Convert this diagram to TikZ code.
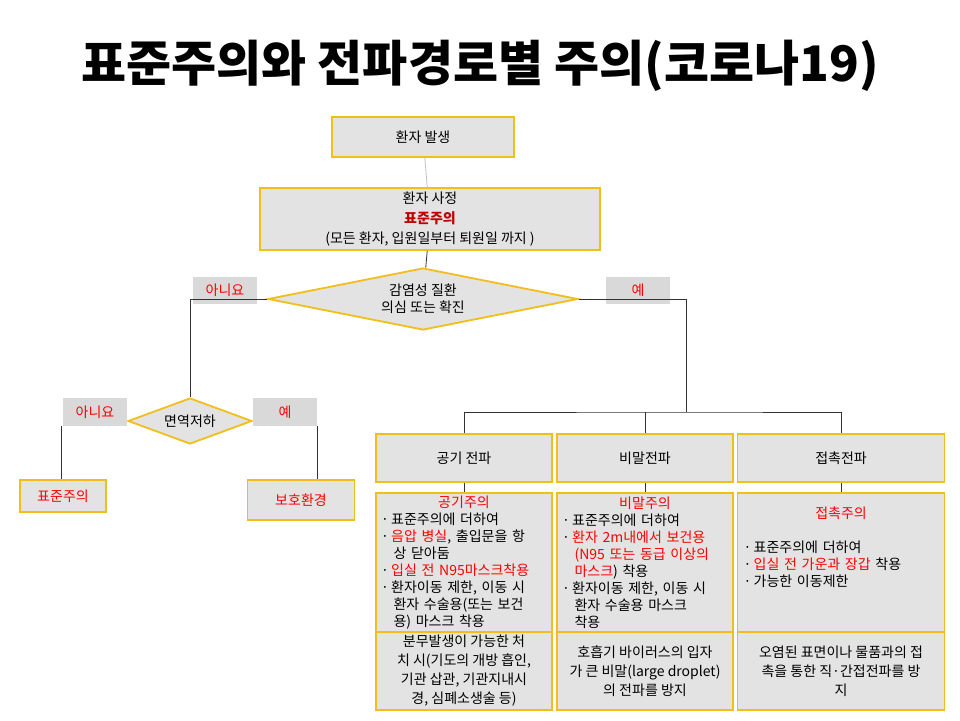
\documentclass[tikz,border=0pt]{standalone}
\usepackage{fontspec}
\setmainfont{Noto Sans CJK KR}
\usetikzlibrary{shapes.geometric}
\usetikzlibrary{positioning}
\definecolor{gold}{HTML}{F2BE1A}
\definecolor{boxgray}{HTML}{E3E3E3}
\definecolor{labgray}{HTML}{D9D9D9}
\definecolor{darkred}{HTML}{C00000}
\newcommand{\rd}[1]{\textcolor{red}{#1}}
\newcommand{\ind}{\phantom{·\ }}

\begin{document}
\begin{tikzpicture}
    [
    x=1pt,y=-1pt,
    font=\fontsize{14}{17}\selectfont,
    box/.style={rectangle,draw=gold,line width=1.8pt,fill=boxgray,inner sep=2pt},
    ask/.style={diamond,draw=gold,line width=1.8pt,fill=boxgray,inner sep=0pt,aspect=5},
    tag/.style={rectangle,fill=labgray,text=red,inner sep=0pt,minimum height=27,minimum width=64},
    link/.style={draw=black!80,line width=0.8pt},
    ]
    \useasboundingbox (0,0) rectangle (960,720);
    \node (title) at (480,66) {\fontsize{49}{55}\selectfont\bfseries 표준주의와 전파경로별 주의(코로나19)};

    \node (start) at (423,137) [box, minimum width=182, minimum height=40] {환자 발생};
    \node (assess) at (430,219) [box, minimum width=340, minimum height=62, align=center,
      font=\fontsize{14}{20}\selectfont]
      {환자 사정\\\textcolor{darkred}{\bfseries 표준주의}\\(모든 환자, 입원일부터 퇴원일 까지 )};
    \node (q1) at (423,299) [ask, minimum width=310, minimum height=62, align=center]
      {감염성 질환\\의심 또는 확진};
    \node (no1) at (225,290) [tag] {아니요};
    \node (yes1) at (638,290) [tag] {예};

    \node (q2) at (190,421) [ask, minimum width=124, minimum height=46] {면역저하};
    \node (no2) at (95,412) [tag, minimum height=28] {아니요};
    \node (yes2) at (285,412) [tag, minimum height=28] {예};
    \node (std) at (63,496) [box, text=red, minimum width=86, minimum height=32] {표준주의};
    \node (prot) at (301,500) [box, text=red, minimum width=107, minimum height=40] {보호환경};
    \coordinate (n2foot) at (61,426);
    \coordinate (y2foot) at (317,426);

    \coordinate (hub) at (686,412);
    \node (air) at (464,458) [box, minimum width=176, minimum height=48] {공기 전파};
    \node (drop) at (645,458) [box, minimum width=176, minimum height=48] {비말전파};
    \node (touch) at (841,458) [box, minimum width=207, minimum height=48] {접촉전파};

    \node (airc) at (464,563) [box, minimum width=176, minimum height=140, align=left,
      text width=166]
      {{\centering\rd{공기주의}\par}
       ·\,표준주의에 더하여\\
       ·\,\rd{음압 병실}, 출입문을 항\\
       \ind 상 닫아둠\\
       ·\,\rd{입실 전 N95마스크착용}\\
       ·\,환자이동 제한, 이동 시\\
       \ind 환자 수술용(또는 보건\\
       \ind 용) 마스크 착용};
    \node (dropc) at (645,563) [box, minimum width=176, minimum height=140, align=left,
      text width=166]
      {{\centering\rd{비말주의}\par}
       ·\,표준주의에 더하여\\
       ·\,\rd{환자 2m내에서 보건용}\\
       \ind \rd{(N95 또는 동급 이상의}\\
       \ind \rd{마스크}) 착용\\
       ·\,환자이동 제한, 이동 시\\
       \ind 환자 수술용 마스크\\
       \ind 착용};
    \node (touchc) at (841,563) [box, minimum width=207, minimum height=140, align=left,
      text width=195]
      {{\centering\rd{접촉주의}\par}\vspace{17pt}
       ·\,표준주의에 더하여\\
       ·\,\rd{입실 전 가운과 장갑} 착용\\
       ·\,가능한 이동제한\\[16pt]\mbox{}};

    \node (airb) at (464,671) [box, minimum width=176, minimum height=78, align=center,
      font=\fontsize{14}{19}\selectfont]
      {분무발생이 가능한 처\\치 시(기도의 개방 흡인,\\기관 삽관, 기관지내시\\경, 심폐소생술 등)};
    \node (dropb) at (645,671) [box, minimum width=176, minimum height=78, align=center,
      font=\fontsize{14}{19}\selectfont]
      {호흡기 바이러스의 입자\\가 큰 비말(large droplet)\\의 전파를 방지};
    \node (touchb) at (841,671) [box, minimum width=207, minimum height=78, align=center,
      font=\fontsize{14}{19}\selectfont]
      {오염된 표면이나 물품과의 접\\촉을 통한 직·간접전파를 방\\지};

    \draw [link, draw=black!25] (start) to (assess);
    \draw [link] (assess) to (q1);
    \draw [link] (q1.west) -| (q2.north);
    \draw [link] (q1.east) -| (hub);
    \draw [link] (air.north) |- (hub) -| (touch.north);
    \draw [link] (drop.north) to (drop.north |- hub);
    \draw [link] (n2foot) to (n2foot |- std.north);
    \draw [link] (y2foot) to (y2foot |- prot.north);
    \draw [link] (air) to (airc);
    \draw [link] (drop) to (dropc);
    \draw [link] (touch) to (touchc);
\end{tikzpicture}
\end{document}
